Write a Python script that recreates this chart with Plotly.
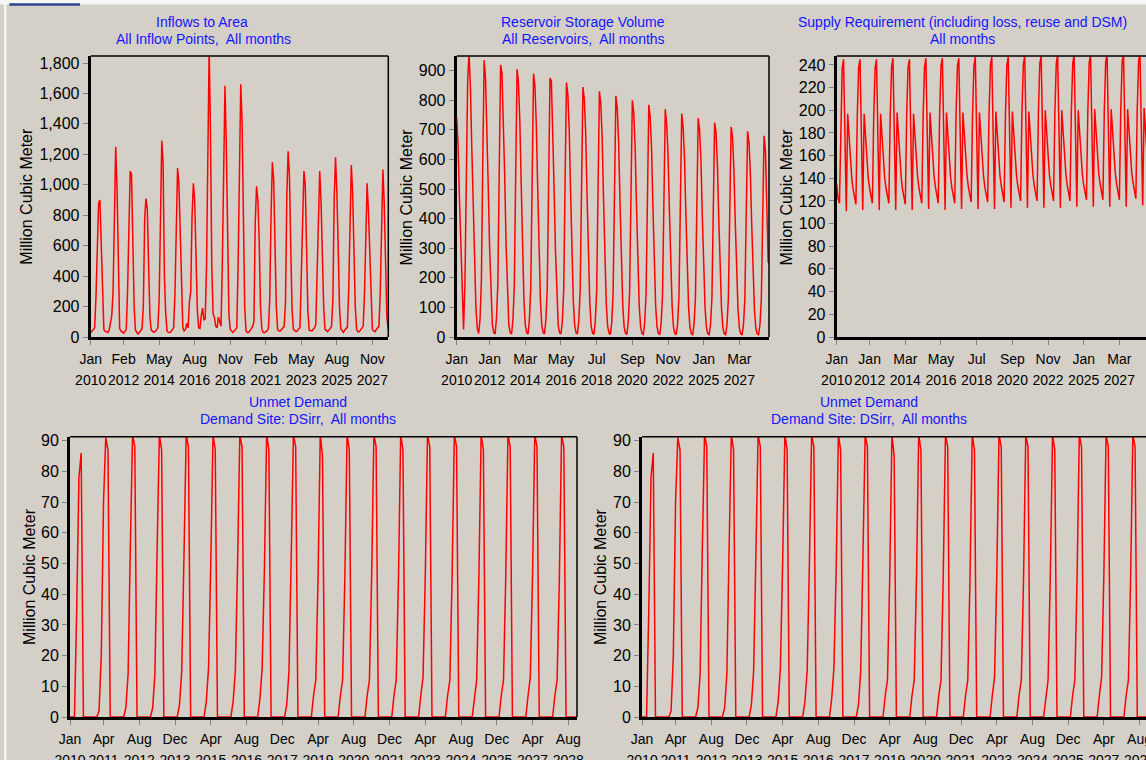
import pandas as pd
import plotly.graph_objects as go

W, H = 1146, 760
BG = "#D4D0C8"
LINE_RED = "#FF0000"
TITLE_BLUE = "#1414FF"
FONT = "Liberation Sans, Arial, sans-serif"

START_YEAR = 2010

# Monthly values (Million Cubic Meter), one row per year Jan..Dec, 2010-2028
inflow = [
    [28, 40, 55, 60, 260, 660, 880, 900, 620, 200, 50, 38],
    [35, 30, 45, 95, 140, 300, 890, 1250, 980, 460, 55, 40],
    [30, 25, 35, 50, 300, 800, 1090, 1070, 690, 200, 45, 30],
    [20, 30, 40, 55, 200, 780, 910, 840, 470, 130, 45, 35],
    [30, 35, 45, 60, 240, 860, 1290, 1150, 400, 150, 40, 30],
    [28, 35, 45, 60, 280, 820, 1110, 1010, 660, 300, 60, 40],
    [50, 90, 60, 230, 300, 790, 1010, 900, 540, 180, 60, 55],
    [140, 190, 110, 120, 470, 1320, 1900, 1340, 470, 150, 130, 70],
    [60, 130, 100, 70, 480, 1240, 1650, 1280, 600, 150, 50, 40],
    [30, 40, 50, 60, 480, 1220, 1660, 1420, 700, 200, 40, 30],
    [30, 40, 55, 70, 100, 750, 990, 900, 640, 200, 55, 30],
    [28, 35, 40, 55, 240, 790, 1150, 1040, 630, 200, 50, 40],
    [40, 50, 60, 70, 230, 930, 1220, 1060, 590, 180, 50, 40],
    [35, 40, 55, 60, 420, 920, 1090, 1000, 600, 170, 45, 40],
    [40, 50, 60, 80, 400, 780, 1090, 890, 470, 200, 50, 40],
    [35, 45, 60, 70, 250, 910, 1180, 960, 600, 200, 55, 40],
    [30, 45, 55, 65, 300, 810, 1130, 950, 560, 200, 50, 35],
    [35, 45, 60, 70, 280, 740, 1010, 830, 560, 180, 50, 40],
    [35, 50, 60, 70, 300, 820, 1100, 880, 440, 130, 50, 40],
]

storage = [
    [740, 650, 470, 290, 120, 25, 180, 510, 870, 960, 840, 640],
    [440, 250, 100, 30, 12, 60, 190, 590, 935, 875, 715, 505],
    [300, 130, 40, 15, 10, 65, 180, 560, 920, 890, 750, 540],
    [310, 130, 40, 15, 10, 60, 175, 550, 905, 860, 730, 520],
    [300, 125, 40, 15, 10, 60, 170, 545, 890, 850, 720, 510],
    [295, 125, 40, 15, 10, 58, 165, 540, 875, 865, 710, 500],
    [290, 120, 38, 14, 10, 55, 160, 530, 860, 820, 700, 490],
    [285, 118, 38, 14, 10, 55, 160, 520, 845, 805, 690, 480],
    [280, 115, 37, 13, 9, 52, 155, 510, 830, 790, 675, 470],
    [275, 112, 36, 13, 9, 50, 150, 500, 815, 775, 660, 460],
    [270, 110, 35, 13, 9, 50, 150, 490, 800, 760, 650, 450],
    [265, 108, 35, 12, 9, 48, 145, 480, 785, 745, 640, 440],
    [260, 105, 34, 12, 9, 47, 140, 470, 770, 720, 620, 430],
    [255, 103, 33, 12, 8, 46, 138, 460, 755, 710, 610, 420],
    [250, 100, 32, 11, 8, 45, 135, 450, 740, 700, 600, 410],
    [245, 98, 32, 11, 8, 44, 132, 440, 725, 690, 580, 400],
    [240, 96, 31, 11, 8, 43, 130, 430, 710, 675, 570, 390],
    [235, 94, 30, 10, 8, 42, 128, 420, 695, 660, 555, 380],
    [230, 92, 30, 10, 8, 41, 125, 410, 680, 630, 460, 250],
]

supply = [
    [135, 122, 118, 195, 237, 245, 156, 111, 197, 177, 150, 140],
    [130, 123, 117, 195, 238, 245, 157, 112, 197, 178, 151, 140],
    [131, 123, 118, 196, 237, 245, 157, 112, 197, 178, 152, 140],
    [131, 124, 118, 195, 238, 246, 156, 112, 198, 178, 151, 141],
    [130, 124, 117, 196, 238, 245, 157, 112, 197, 179, 152, 141],
    [131, 124, 118, 196, 238, 246, 157, 113, 198, 178, 152, 141],
    [132, 124, 118, 196, 239, 246, 157, 112, 198, 179, 153, 141],
    [131, 125, 118, 197, 239, 246, 158, 113, 198, 179, 153, 142],
    [132, 125, 119, 196, 239, 247, 158, 113, 198, 180, 153, 142],
    [132, 125, 119, 197, 240, 247, 158, 113, 199, 180, 154, 142],
    [133, 126, 119, 197, 240, 247, 159, 114, 199, 180, 154, 143],
    [133, 126, 120, 198, 240, 248, 159, 114, 199, 181, 154, 143],
    [133, 126, 120, 198, 241, 248, 159, 114, 200, 181, 155, 143],
    [134, 127, 120, 198, 241, 249, 160, 114, 200, 181, 155, 144],
    [134, 127, 120, 199, 241, 249, 160, 115, 200, 182, 155, 144],
    [134, 127, 121, 199, 242, 249, 160, 115, 201, 182, 156, 144],
    [135, 128, 121, 199, 242, 250, 161, 115, 201, 182, 156, 145],
    [135, 128, 121, 200, 242, 250, 161, 115, 201, 183, 156, 145],
    [136, 128, 122, 200, 243, 250, 161, 116, 202, 183, 157, 145],
]

unmet = [
    [0, 0, 0, 35, 78, 86, 0, 0, 0, 0, 0, 0],
    [0, 2, 20, 70, 91, 87, 0, 0, 0, 0, 0, 0],
    [0, 3, 14, 55, 92, 88, 0, 0, 0, 0, 0, 0],
    [0, 3, 14, 55, 92, 87, 0, 0, 0, 0, 0, 0],
    [0, 4, 15, 52, 92, 88, 0, 0, 0, 0, 0, 0],
    [0, 5, 16, 50, 92, 87, 0, 0, 0, 0, 0, 0],
    [0, 5, 15, 50, 92, 88, 0, 0, 0, 0, 0, 0],
    [0, 6, 16, 48, 92, 87, 0, 0, 0, 0, 0, 0],
    [0, 4, 15, 52, 92, 88, 0, 0, 0, 0, 0, 0],
    [0, 7, 12, 45, 92, 85, 0, 0, 0, 0, 0, 0],
    [0, 7, 12, 45, 92, 87, 0, 0, 0, 0, 0, 0],
    [0, 7, 12, 46, 92, 88, 0, 0, 0, 0, 0, 0],
    [0, 7, 12, 45, 92, 87, 0, 0, 0, 0, 0, 0],
    [0, 7, 13, 46, 92, 88, 0, 0, 0, 0, 0, 0],
    [0, 7, 12, 45, 92, 88, 0, 0, 0, 0, 0, 0],
    [0, 6, 12, 46, 92, 87, 0, 0, 0, 0, 0, 0],
    [0, 7, 12, 45, 92, 88, 0, 0, 0, 0, 0, 0],
    [0, 7, 13, 46, 92, 88, 0, 0, 0, 0, 0, 0],
    [0, 7, 12, 45, 92, 88, 0, 0, 0, 0, 0, 0],
]

inflow_ticks = ["Jan 2010", "Feb 2012", "May 2014", "Aug 2016", "Nov 2018",
                "Feb 2021", "May 2023", "Aug 2025", "Nov 2027"]
storage_ticks = ["Jan 2010", "Jan 2012", "Mar 2014", "May 2016", "Jul 2018",
                 "Sep 2020", "Nov 2022", "Jan 2025", "Mar 2027"]
unmet_ticks = ["Jan 2010", "Apr 2011", "Aug 2012", "Dec 2013", "Apr 2015",
               "Aug 2016", "Dec 2017", "Apr 2019", "Aug 2020", "Dec 2021",
               "Apr 2023", "Aug 2024", "Dec 2025", "Apr 2027", "Aug 2028"]

Y_UNIT = "Million Cubic Meter"


def flatten(rows):
    return [v for row in rows for v in row]


def month_offsets(labels):
    stamps = pd.to_datetime(labels, format="%b %Y")
    return [(t.year - START_YEAR) * 12 + t.month - 1 for t in stamps]


def two_line(labels):
    out = []
    for lab in labels:
        mon, yr = lab.split()
        out.append(f"<span style='font-size:14px'>{mon}</span><br>"
                   f"<span style='font-size:14px'>{yr}</span>")
    return out


months = list(range(12 * len(inflow)))

# panel geometry in pixels: plot-area x span, y span, visible month span, y max
panels = [
    dict(y=flatten(inflow), ticks=inflow_ticks, xpx=(90.7, 388.3), xmax=226.1,
         ypx=(56, 337), ymax=1846, dtick=200, fmt=",d", open_right=False),
    dict(y=flatten(storage), ticks=storage_ticks, xpx=(456.7, 769.0), xmax=227.6,
         ypx=(56, 337), ymax=949.7, dtick=100, fmt="d", open_right=False),
    dict(y=flatten(supply), ticks=storage_ticks, xpx=(836.7, 1146.0), xmax=225.4,
         ypx=(56, 337), ymax=247.9, dtick=20, fmt="d", open_right=True),
    dict(y=flatten(unmet), ticks=unmet_ticks, xpx=(70.0, 577.0), xmax=226.9,
         ypx=(436.7, 717), ymax=91.3, dtick=10, fmt="d", open_right=False),
    dict(y=flatten(unmet), ticks=unmet_ticks, xpx=(642.1, 1146.0), xmax=225.9,
         ypx=(436.7, 717), ymax=91.3, dtick=10, fmt="d", open_right=True),
]

fig = go.Figure()
layout = dict(
    width=W, height=H,
    margin=dict(l=0, r=0, t=0, b=0),
    paper_bgcolor=BG, plot_bgcolor=BG,
    font=dict(family=FONT, color="black"),
    showlegend=False,
    hovermode=False,
)
shapes = []

for i, p in enumerate(panels, start=1):
    sfx = "" if i == 1 else str(i)
    xname, yname = f"x{sfx}", f"y{sfx}"
    fig.add_trace(go.Scatter(
        x=months, y=p["y"], mode="lines",
        line=dict(color=LINE_RED, width=1.5),
        xaxis=xname, yaxis=yname, hoverinfo="skip",
    ))
    layout[f"xaxis{sfx}"] = dict(
        domain=[p["xpx"][0] / W, p["xpx"][1] / W],
        range=[0, p["xmax"]], anchor=yname,
        showline=True, linecolor="black", linewidth=3, mirror=False,
        ticks="outside", ticklen=5, tickwidth=1, tickcolor="#808080",
        showgrid=False, zeroline=False,
        tickmode="array", tickvals=month_offsets(p["ticks"]),
        ticktext=two_line(p["ticks"]), tickangle=0,
        ticklabeloverflow="allow",
        tickfont=dict(size=16, color="black", family=FONT),
        automargin=False, fixedrange=True, layer="below traces",
    )
    layout[f"yaxis{sfx}"] = dict(
        domain=[1 - p["ypx"][1] / H, 1 - p["ypx"][0] / H],
        range=[0, p["ymax"]], anchor=xname,
        showline=True, linecolor="black", linewidth=3, mirror=False,
        ticks="outside", ticklen=5, tickwidth=1, tickcolor="#808080",
        showgrid=False, zeroline=False,
        tickmode="linear", tick0=0, dtick=p["dtick"], tickformat=p["fmt"],
        tickfont=dict(size=16, color="black", family=FONT),
        automargin=False, fixedrange=True, layer="below traces",
    )
    # thin top (and right) frame lines
    shapes.append(dict(type="line", xref=f"{xname} domain", yref=f"{yname} domain",
                       x0=0, x1=1, y0=1, y1=1, line=dict(color="black", width=1.5)))
    if not p["open_right"]:
        shapes.append(dict(type="line", xref=f"{xname} domain", yref=f"{yname} domain",
                           x0=1, x1=1, y0=0, y1=1, line=dict(color="black", width=1.5)))

# window chrome along the top and left edges
shapes += [
    dict(type="rect", xref="paper", yref="paper", x0=0, x1=1, y0=1 - 4.5 / H, y1=1,
         fillcolor="#F6F6F4", line=dict(width=0), layer="below"),
    dict(type="rect", xref="paper", yref="paper", x0=4 / W, x1=6.5 / W, y0=0, y1=1,
         fillcolor="#F6F6F4", line=dict(width=0), layer="below"),
    dict(type="rect", xref="paper", yref="paper", x0=9.3 / W, x1=80 / W,
         y0=1 - 5.8 / H, y1=1 - 3.3 / H, fillcolor="#2B4590", line=dict(width=0)),
]

# chart titles: (text, center x px, center y px)
titles = [
    ("Inflows to Area", 202, 22.5),
    ("All Inflow Points,\u00a0 All months", 203, 39),
    ("Reservoir Storage Volume", 583, 22.5),
    ("All Reservoirs,\u00a0 All months", 583, 39),
    ("Supply Requirement (including loss, reuse and DSM)", 962, 22.5),
    ("All months", 962.5, 39),
    ("Unmet Demand", 297.5, 402.5),
    ("Demand Site: DSirr,\u00a0 All months", 297.5, 419),
    ("Unmet Demand", 869, 402.5),
    ("Demand Site: DSirr,\u00a0 All months", 869, 419),
]
annotations = [
    dict(text=t, x=cx / W, y=1 - cy / H, xref="paper", yref="paper",
         xanchor="center", yanchor="middle", showarrow=False,
         font=dict(size=14, color=TITLE_BLUE, family=FONT))
    for t, cx, cy in titles
]
# y-axis titles
for cx, cy in [(27, 196.7), (406.7, 196.7), (786.7, 196.7), (29.3, 576.7), (600.4, 576.7)]:
    annotations.append(dict(text=Y_UNIT, x=cx / W, y=1 - cy / H, xref="paper", yref="paper",
                            xanchor="center", yanchor="middle", showarrow=False, textangle=-90,
                            font=dict(size=16, color="black", family=FONT)))

layout["shapes"] = shapes
layout["annotations"] = annotations
fig.update_layout(**layout)

fig.write_html("out.html")
